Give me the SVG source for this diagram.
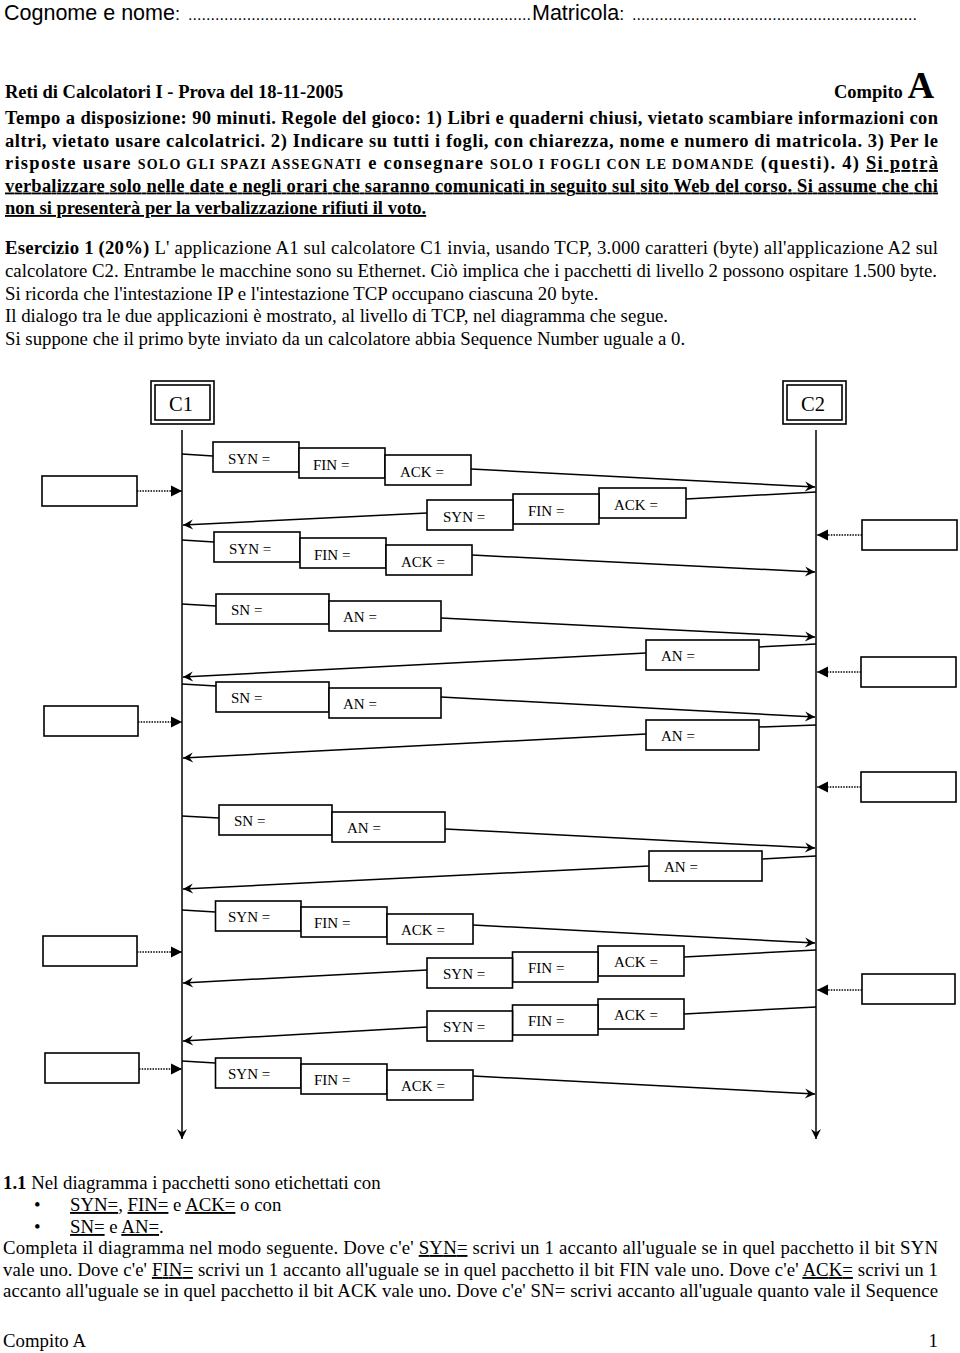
<svg xmlns="http://www.w3.org/2000/svg" width="960" height="1353" viewBox="0 0 960 1353">
<defs>
<style>
text { font-family: "Liberation Serif", "Times New Roman", serif; fill: #000; }
.sans { font-family: "Liberation Sans", Arial, sans-serif; }
.b { font-weight: bold; }
.p { font-size: 18.5px; }
.r { font-size: 18.8px; }
.lbl { font-size: 15px; }
.box { fill: #fff; stroke: #000; stroke-width: 1.6; }
.ln { fill: none; stroke: #000; stroke-width: 1.5; }
.msg { marker-end: url(#arr); }
.dot { stroke-dasharray: 1.5 1.2; marker-end: url(#tri); }
.u { text-decoration: underline; }
</style>
<marker id="arr" viewBox="-11 -6 12 12" refX="0" refY="0" markerWidth="12" markerHeight="12" markerUnits="userSpaceOnUse" orient="auto"><path d="M0,0 L-10,-5 L-6.5,0 L-10,5 Z" fill="#000"/></marker>
<marker id="tri" viewBox="-12 -6 13 12" refX="0" refY="0" markerWidth="13" markerHeight="12" markerUnits="userSpaceOnUse" orient="auto"><path d="M0,0 L-11,-5.5 L-11,5.5 Z" fill="#000"/></marker>
</defs>
<rect x="0" y="0" width="960" height="1353" fill="#fff"/>

<g id="header">
<text class="sans" x="4" y="19.5" font-size="21.5">Cognome e nome<tspan font-size="18">:</tspan></text>
<text class="sans" x="188" y="19.5" font-size="16" textLength="343" lengthAdjust="spacing">............................................................................</text>
<text class="sans" x="532" y="19.5" font-size="21.5">Matricola<tspan font-size="18">:</tspan></text>
<text class="sans" x="632" y="19.5" font-size="16" textLength="285" lengthAdjust="spacing">...............................................................</text>
<text class="p b" x="5" y="98">Reti di Calcolatori I - Prova del 18-11-2005</text>
<text class="p b" x="834" y="98">Compito <tspan font-size="37">A</tspan></text>
</g>

<g id="rules">
<text class="p b" x="5" y="124" textLength="933" lengthAdjust="spacing">Tempo a disposizione:  90 minuti. Regole del gioco:  1) Libri e quaderni chiusi, vietato scambiare informazioni con</text>
<text class="p b" x="5" y="146.5" textLength="933" lengthAdjust="spacing">altri, vietato usare calcolatrici. 2) Indicare su tutti i fogli, con chiarezza, nome e numero di matricola. 3) Per le</text>
<text class="p b" x="5" y="169" textLength="933" lengthAdjust="spacing">risposte usare <tspan font-size="14">SOLO GLI SPAZI ASSEGNATI</tspan> e consegnare <tspan font-size="14">SOLO I FOGLI CON LE DOMANDE</tspan> (questi). 4) <tspan class="u">Si potrà</tspan></text>
<text class="p b u" x="5" y="191.5" textLength="933" lengthAdjust="spacing">verbalizzare solo nelle date e negli orari che saranno comunicati in seguito sul sito Web del corso. Si assume che chi</text>
<text class="p b u" x="5" y="214">non si presenterà per la verbalizzazione rifiuti il voto.</text>
</g>

<g id="exercise">
<text class="r" x="5" y="254" textLength="933" lengthAdjust="spacing"><tspan class="b">Esercizio 1 (20%)</tspan> L' applicazione A1 sul calcolatore C1 invia, usando TCP, 3.000 caratteri (byte) all'applicazione A2 sul</text>
<text class="r" x="5" y="277" textLength="932" lengthAdjust="spacing">calcolatore C2. Entrambe le macchine sono su Ethernet. Ciò implica che i pacchetti di livello 2 possono ospitare 1.500 byte.</text>
<text class="r" x="5" y="299.5">Si ricorda che l'intestazione IP e l'intestazione TCP occupano ciascuna 20 byte.</text>
<text class="r" x="5" y="322">Il dialogo tra le due applicazioni è mostrato, al livello di TCP, nel diagramma che segue.</text>
<text class="r" x="5" y="345">Si suppone che il primo byte inviato da un calcolatore abbia Sequence Number uguale a 0.</text>
</g>

<g id="connectors" class="ln">
<line x1="182" y1="430" x2="182" y2="1139" class="msg"/>
<line x1="816" y1="430" x2="816" y2="1139" class="msg"/>
<line x1="182" y1="454" x2="213" y2="456"/>
<line x1="471" y1="469" x2="815" y2="487" class="msg"/>
<line x1="816" y1="492" x2="686" y2="499"/>
<line x1="427" y1="513" x2="183" y2="525" class="msg"/>
<line x1="182" y1="540" x2="214" y2="542"/>
<line x1="472" y1="555" x2="815" y2="572" class="msg"/>
<line x1="182" y1="604" x2="216" y2="606"/>
<line x1="441" y1="618" x2="815" y2="637" class="msg"/>
<line x1="816" y1="644" x2="759" y2="647"/>
<line x1="646" y1="653" x2="183" y2="677" class="msg"/>
<line x1="182" y1="684" x2="216" y2="686"/>
<line x1="441" y1="697" x2="815" y2="717" class="msg"/>
<line x1="816" y1="725" x2="759" y2="727"/>
<line x1="646" y1="734" x2="183" y2="758" class="msg"/>
<line x1="182" y1="816" x2="219" y2="818"/>
<line x1="445" y1="829" x2="815" y2="848" class="msg"/>
<line x1="816" y1="856" x2="762" y2="859"/>
<line x1="649" y1="866" x2="183" y2="889" class="msg"/>
<line x1="182" y1="910" x2="215.5" y2="912"/>
<line x1="473" y1="925" x2="815" y2="943" class="msg"/>
<line x1="816" y1="950" x2="684" y2="957"/>
<line x1="427" y1="970" x2="183" y2="983" class="msg"/>
<line x1="816" y1="1007" x2="684" y2="1014"/>
<line x1="427" y1="1027" x2="183" y2="1041" class="msg"/>
<line x1="182" y1="1061" x2="215.5" y2="1063"/>
<line x1="473" y1="1076" x2="815" y2="1094" class="msg"/>
<line x1="137" y1="491" x2="182" y2="491" class="dot"/>
<line x1="862" y1="535" x2="817" y2="535" class="dot"/>
<line x1="861" y1="672" x2="817" y2="672" class="dot"/>
<line x1="138" y1="722" x2="182" y2="722" class="dot"/>
<line x1="861" y1="787" x2="817" y2="787" class="dot"/>
<line x1="137" y1="952" x2="182" y2="952" class="dot"/>
<line x1="862" y1="990" x2="817" y2="990" class="dot"/>
<line x1="139" y1="1069" x2="182" y2="1069" class="dot"/>
</g>

<g id="node-c1">
<rect class="box" x="151" y="381" width="63" height="43" stroke-width="2"/>
<rect class="box" x="155" y="385" width="55" height="35" stroke-width="2"/>
<text x="181" y="410.5" font-size="20.5" text-anchor="middle">C1</text>
</g>
<g id="node-c2">
<rect class="box" x="783" y="381" width="63" height="43" stroke-width="2"/>
<rect class="box" x="787" y="385" width="55" height="35" stroke-width="2"/>
<text x="813" y="410.5" font-size="20.5" text-anchor="middle">C2</text>
</g>

<g id="pkt1" class="lbl">
<rect class="box" x="213" y="442" width="86" height="30"/><text x="228" y="464">SYN =</text>
<rect class="box" x="299" y="448" width="86" height="30"/><text x="313" y="470">FIN =</text>
<rect class="box" x="385" y="455" width="86" height="30"/><text x="400" y="477">ACK =</text>
</g>
<g id="pkt2" class="lbl">
<rect class="box" x="599" y="488" width="87" height="30"/><text x="614" y="509.5">ACK =</text>
<rect class="box" x="513" y="494" width="86" height="30"/><text x="528" y="515.5">FIN =</text>
<rect class="box" x="427" y="500" width="86" height="30"/><text x="443" y="521.5">SYN =</text>
</g>
<g id="pkt3" class="lbl">
<rect class="box" x="214" y="532" width="86" height="30"/><text x="229" y="554">SYN =</text>
<rect class="box" x="300" y="538" width="86" height="30"/><text x="314" y="560">FIN =</text>
<rect class="box" x="386" y="545" width="86" height="30"/><text x="401" y="567">ACK =</text>
</g>
<g id="pkt4" class="lbl">
<rect class="box" x="216" y="594" width="113" height="30"/><text x="231" y="615">SN =</text>
<rect class="box" x="329" y="601" width="112" height="30"/><text x="343" y="622">AN =</text>
</g>
<g id="pkt5" class="lbl">
<rect class="box" x="646" y="640" width="113" height="30"/><text x="661" y="661">AN =</text>
</g>
<g id="pkt6" class="lbl">
<rect class="box" x="216" y="682" width="113" height="30"/><text x="231" y="703">SN =</text>
<rect class="box" x="329" y="688" width="112" height="30"/><text x="343" y="709">AN =</text>
</g>
<g id="pkt7" class="lbl">
<rect class="box" x="646" y="720" width="113" height="30"/><text x="661" y="741">AN =</text>
</g>
<g id="pkt8" class="lbl">
<rect class="box" x="219" y="805" width="113" height="30"/><text x="234" y="826">SN =</text>
<rect class="box" x="332" y="812" width="113" height="30"/><text x="347" y="833">AN =</text>
</g>
<g id="pkt9" class="lbl">
<rect class="box" x="649" y="851" width="113" height="30"/><text x="664" y="872">AN =</text>
</g>
<g id="pkt10" class="lbl">
<rect class="box" x="215.5" y="901" width="85.5" height="30"/><text x="228" y="922">SYN =</text>
<rect class="box" x="301" y="907" width="86" height="30"/><text x="314" y="928">FIN =</text>
<rect class="box" x="387" y="914" width="86" height="30"/><text x="401" y="935">ACK =</text>
</g>
<g id="pkt11" class="lbl">
<rect class="box" x="598" y="946" width="86" height="30"/><text x="614" y="967">ACK =</text>
<rect class="box" x="512.5" y="952" width="85.5" height="30"/><text x="528" y="973">FIN =</text>
<rect class="box" x="427" y="958" width="85.5" height="30"/><text x="443" y="979">SYN =</text>
</g>
<g id="pkt12" class="lbl">
<rect class="box" x="598" y="999" width="86" height="30"/><text x="614" y="1020">ACK =</text>
<rect class="box" x="512.5" y="1005" width="85.5" height="30"/><text x="528" y="1026">FIN =</text>
<rect class="box" x="427" y="1011" width="85.5" height="30"/><text x="443" y="1032">SYN =</text>
</g>
<g id="pkt13" class="lbl">
<rect class="box" x="215.5" y="1058" width="85.5" height="30"/><text x="228" y="1079">SYN =</text>
<rect class="box" x="301" y="1064" width="86" height="30"/><text x="314" y="1085">FIN =</text>
<rect class="box" x="387" y="1070" width="86" height="30"/><text x="401" y="1091">ACK =</text>
</g>

<g id="note-l1"><rect class="box" x="42" y="476" width="95" height="30"/></g>
<g id="note-r1"><rect class="box" x="862" y="520" width="95" height="30"/></g>
<g id="note-r2"><rect class="box" x="861" y="657" width="95" height="30"/></g>
<g id="note-l2"><rect class="box" x="44" y="706" width="94" height="30"/></g>
<g id="note-r3"><rect class="box" x="861" y="772" width="95" height="30"/></g>
<g id="note-l3"><rect class="box" x="43" y="936" width="94" height="30"/></g>
<g id="note-r4"><rect class="box" x="862" y="974" width="93" height="30"/></g>
<g id="note-l4"><rect class="box" x="45" y="1053" width="94" height="30"/></g>

<g id="questions">
<text class="r" x="3" y="1189"><tspan class="b">1.1</tspan> Nel diagramma i pacchetti sono etichettati con</text>
<text class="r" x="34" y="1211">•</text>
<text class="r" x="70" y="1211"><tspan class="u">SYN=</tspan>, <tspan class="u">FIN=</tspan> e <tspan class="u">ACK=</tspan> o con</text>
<text class="r" x="34" y="1233">•</text>
<text class="r" x="70" y="1233"><tspan class="u">SN=</tspan> e <tspan class="u">AN=</tspan>.</text>
<text class="r" x="3" y="1254" textLength="935" lengthAdjust="spacing">Completa il diagramma nel modo seguente. Dove c'e' <tspan class="u">SYN=</tspan> scrivi un 1 accanto all'uguale se in quel pacchetto il bit SYN</text>
<text class="r" x="3" y="1276" textLength="935" lengthAdjust="spacing">vale uno. Dove c'e' <tspan class="u">FIN=</tspan> scrivi un 1 accanto all'uguale se in quel pacchetto il bit FIN vale uno. Dove c'e' <tspan class="u">ACK=</tspan> scrivi un 1</text>
<text class="r" x="3" y="1297" textLength="935" lengthAdjust="spacing">accanto all'uguale se in quel pacchetto il bit ACK vale uno. Dove c'e' SN= scrivi accanto all'uguale quanto vale il Sequence</text>
<text class="r" x="3" y="1347">Compito A</text>
<text class="r" x="938" y="1347" text-anchor="end">1</text>
</g>
</svg>
